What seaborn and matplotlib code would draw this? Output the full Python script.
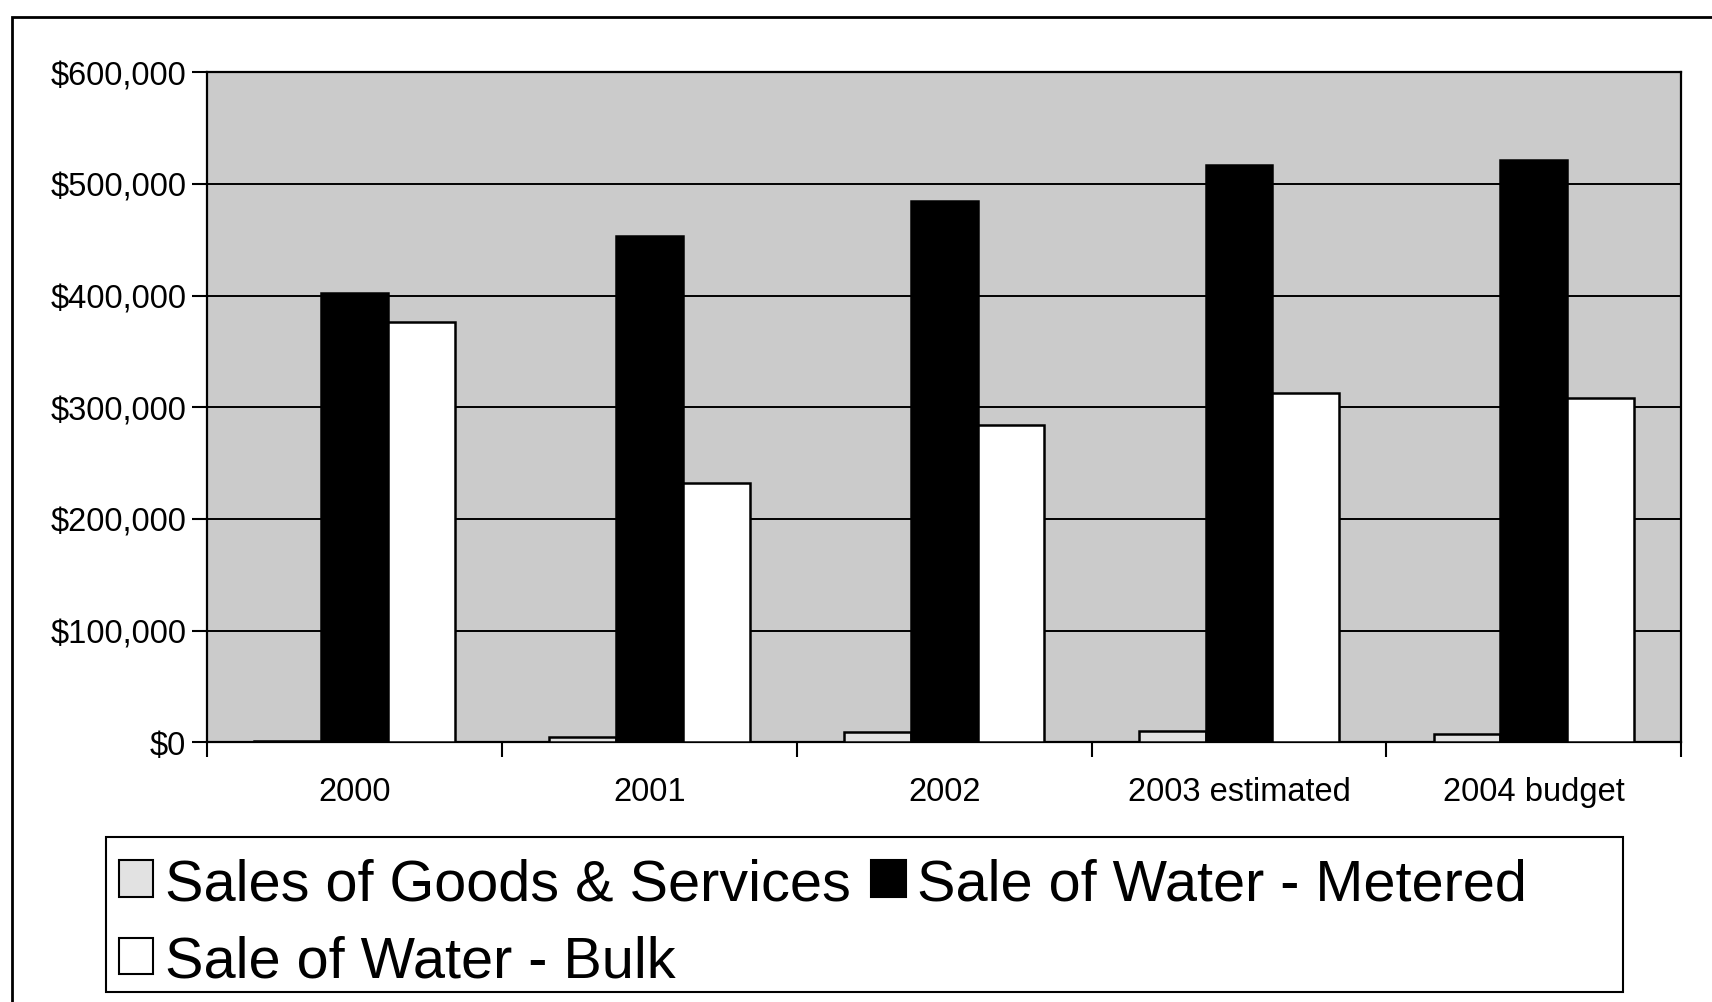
import numpy as np
import pandas as pd
import matplotlib
matplotlib.use("Agg")
import matplotlib.pyplot as plt
import seaborn as sns
from matplotlib.patches import Patch, Rectangle
from matplotlib.ticker import FuncFormatter, FixedLocator

# ─────────────────────────────────────────────
# DATA
# ─────────────────────────────────────────────
years = ["2000", "2001", "2002", "2003 estimated", "2004 budget"]
series = ["Sales of Goods & Services", "Sale of Water - Metered", "Sale of Water - Bulk"]
goods = [1500, 5000, 9000, 10000, 7000]
metered = [402000, 453000, 485000, 517000, 521000]
bulk = [376000, 232000, 284000, 313000, 308000]

df = pd.DataFrame({
    "year": years * 3,
    "series": [series[0]] * 5 + [series[1]] * 5 + [series[2]] * 5,
    "value": goods + metered + bulk,
})

bar_colors = ["#e2e2e2", "#000000", "#ffffff"]
plot_bg = "#cbcbcb"

sns.set_style("white")
plt.rcParams["font.family"] = ["Liberation Sans", "DejaVu Sans"]
plt.rcParams["text.color"] = "black"
plt.rcParams["xtick.color"] = "black"
plt.rcParams["ytick.color"] = "black"

fig = plt.figure(figsize=(17.12, 10.03), dpi=100)
ax = fig.add_axes([0.121, 0.259, 0.861, 0.668])
ax.set_facecolor(plot_bg)

sns.barplot(data=df, x="year", y="value", hue="series", hue_order=series,
            palette=bar_colors, saturation=1, width=0.68,
            edgecolor="black", linewidth=1.8, legend=False, ax=ax, zorder=3)

ax.set_ylim(0, 600000)
ax.set_xlim(-0.5, 4.5)
ax.set_yticks(np.arange(0, 600001, 100000))
ax.yaxis.set_major_formatter(FuncFormatter(lambda v, p: f"${v:,.0f}"))
ax.grid(axis="y", color="black", linewidth=1.4, zorder=1)
ax.set_axisbelow(True)
ax.set_xlabel("")
ax.set_ylabel("")

for s in ax.spines.values():
    s.set_color("black")
    s.set_linewidth(1.6)

ax.tick_params(axis="y", which="major", length=11, width=1.5, direction="out",
               labelsize=23.5, pad=4, left=True)
ax.tick_params(axis="x", which="major", length=0, labelsize=23.5, pad=24)
ax.xaxis.set_minor_locator(FixedLocator(np.arange(-0.5, 4.6, 1.0)))
ax.tick_params(axis="x", which="minor", length=11, width=1.5, direction="out", bottom=True)

# legend below the plot, with its own box
handles = [Patch(facecolor=c, edgecolor="black", linewidth=1.5) for c in bar_colors]
order = [0, 2, 1]
leg = fig.legend([handles[i] for i in order], [series[i] for i in order],
                 loc="upper left", bbox_to_anchor=(0.058, 0.164), ncol=2,
                 fontsize=41.5, frameon=False,
                 handlelength=0.6, handleheight=0.6, handletextpad=0.2,
                 columnspacing=0.35, labelspacing=0.4, borderpad=0.34,
                 borderaxespad=0)
fig.add_artist(Rectangle((0.0619, 0.0098), 0.8864, 0.1544, transform=fig.transFigure,
                         fill=False, edgecolor="black", linewidth=1.5))

# outer chart border
fig.add_artist(Rectangle((0.007, -0.1), 1.2, 1.082, transform=fig.transFigure,
                         fill=False, edgecolor="black", linewidth=2))

fig.savefig("out.png", dpi=100)
